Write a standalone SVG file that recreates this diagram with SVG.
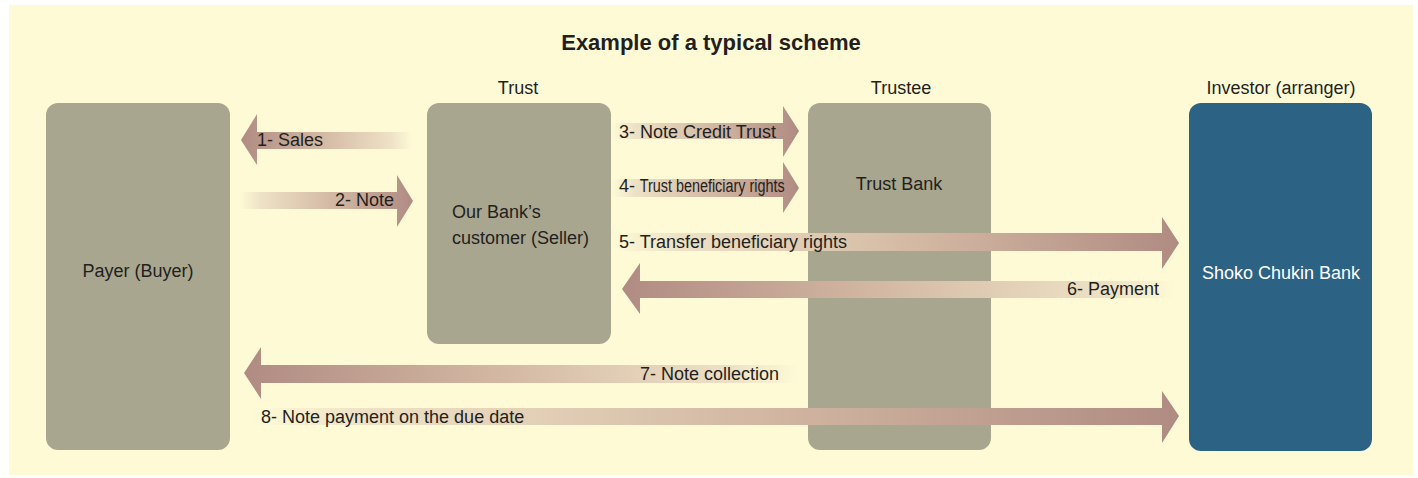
<svg xmlns="http://www.w3.org/2000/svg" width="1418" height="478" viewBox="0 0 1418 478">
  <style>
    .panel { fill: #fefad6; }
    .box { fill: #a8a68e; }
    .box-dark { fill: #2c6384; }
    text { font-family: "Liberation Sans", Arial, sans-serif; font-size: 18px; fill: #231f20; }
    .title { font-size: 22px; font-weight: bold; }
    .mid { text-anchor: middle; }
    .end { text-anchor: end; }
    .light { fill: #ffffff; }
    .to-right { fill: url(#flowRight); }
    .to-left { fill: url(#flowLeft); }
  </style>
  <defs>
    <linearGradient id="flowRight" x1="0" y1="0" x2="1" y2="0">
      <stop offset="0" stop-color="#fefad6"/>
      <stop offset="0.12" stop-color="#eee2c6"/>
      <stop offset="0.55" stop-color="#d2b7a2"/>
      <stop offset="1" stop-color="#b08b82"/>
    </linearGradient>
    <linearGradient id="flowLeft" x1="1" y1="0" x2="0" y2="0">
      <stop offset="0" stop-color="#fefad6"/>
      <stop offset="0.12" stop-color="#eee2c6"/>
      <stop offset="0.55" stop-color="#d2b7a2"/>
      <stop offset="1" stop-color="#b08b82"/>
    </linearGradient>
  </defs>

  <!-- background panel -->
  <rect class="panel" x="9" y="5" width="1404" height="470"/>

  <text class="title mid" x="711" y="50">Example of a typical scheme</text>

  <!-- nodes -->
  <g id="payer">
    <rect class="box" x="46" y="103" width="184" height="347" rx="12"/>
    <text class="mid" x="138" y="277">Payer (Buyer)</text>
  </g>
  <g id="trust">
    <text class="mid" x="518" y="94">Trust</text>
    <rect class="box" x="427" y="103" width="184" height="241" rx="12"/>
    <text x="452" y="218">Our Bank’s</text>
    <text x="452" y="244">customer (Seller)</text>
  </g>
  <g id="trustee">
    <text class="mid" x="901" y="94">Trustee</text>
    <rect class="box" x="808" y="103" width="183" height="347" rx="12"/>
    <text class="mid" x="899" y="190">Trust Bank</text>
  </g>
  <g id="investor">
    <text class="mid" x="1281" y="94">Investor (arranger)</text>
    <rect class="box-dark" x="1189" y="103" width="183" height="348" rx="12"/>
    <text class="mid light" x="1281" y="279">Shoko Chukin Bank</text>
  </g>

  <!-- connectors -->
  <g id="connectors">
    <!-- 1 Sales: seller to payer -->
    <polygon class="to-left" points="412,132 257,132 257,114 241,140 257,165 257,149 412,149"/>
    <text x="257" y="146">1- Sales</text>

    <!-- 2 Note: payer to seller -->
    <polygon class="to-right" points="240,192 397,192 397,175 413,201 397,227 397,209 240,209"/>
    <text class="end" x="394" y="206">2- Note</text>

    <!-- 3 Note credit trust -->
    <polygon class="to-right" points="612,123 783,123 783,106 799,131 783,157 783,139 612,139"/>
    <text x="619" y="138">3- Note Credit Trust</text>

    <!-- 4 Trust beneficiary rights -->
    <polygon class="to-right" points="612,179 783,179 783,162 799,188 783,213 783,197 612,197"/>
    <text x="619" y="192">4- <tspan textLength="145" lengthAdjust="spacingAndGlyphs">Trust beneficiary rights</tspan></text>

    <!-- 5 Transfer beneficiary rights -->
    <polygon class="to-right" points="612,233 1162,233 1162,217 1179,243 1162,269 1162,251 612,251"/>
    <text x="619" y="248">5- Transfer beneficiary rights</text>

    <!-- 6 Payment -->
    <polygon class="to-left" points="1176,281 640,281 640,263 622,289 640,314 640,298 1176,298"/>
    <text class="end" x="1159" y="295">6- Payment</text>

    <!-- 7 Note collection -->
    <polygon class="to-left" points="800,365 261,365 261,347 244,373 261,399 261,383 800,383"/>
    <text x="640" y="380">7- Note collection</text>

    <!-- 8 Note payment on the due date -->
    <polygon class="to-right" points="252,408 1162,408 1162,391 1179,416 1162,443 1162,425 252,425"/>
    <text x="261" y="423">8- Note payment on the due date</text>
  </g>
</svg>
